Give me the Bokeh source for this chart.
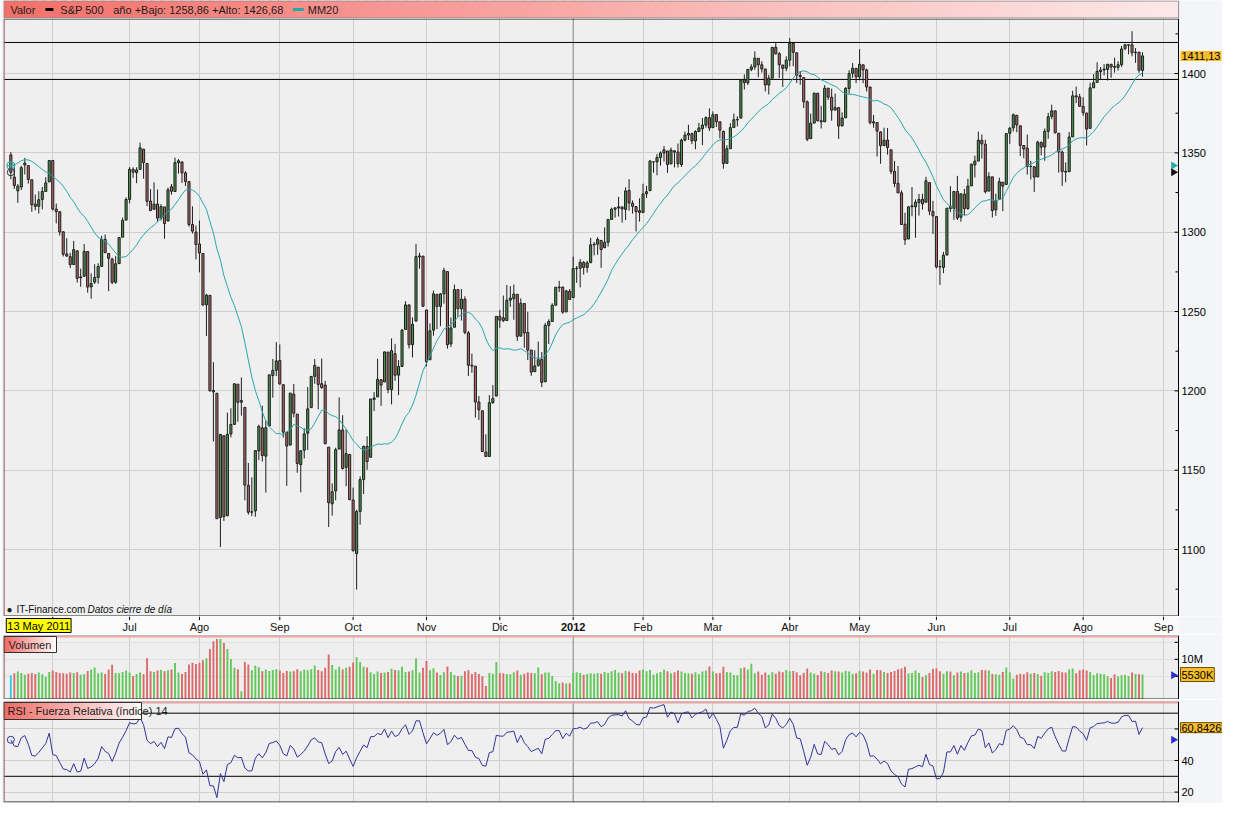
import numpy as np
import pandas as pd
from bokeh.plotting import figure
from bokeh.layouts import column
from bokeh.models import Range1d, FixedTicker, Span, Label
from bokeh.core.properties import value
from bokeh.embed import file_html
from bokeh.resources import INLINE

FONT = "Liberation Sans"

# ---------------- data ----------------
first_date_label = "13 May 2011"
month_start_idx = [12, 34, 54, 77, 98, 119, 140, 161, 181, 201, 223, 243, 265, 286, 307, 330]
month_labels = ["", "Jul", "Ago", "Sep", "Oct", "Nov", "Dic", "2012", "Feb", "Mar", "Abr", "May", "Jun", "Jul", "Ago", "Sep"]
year_start_idx = 161
levels = [1419.6, 1396.3]
price_ticks = [1100, 1150, 1200, 1250, 1300, 1350, 1400]
price_minor_ticks = [1075, 1125, 1175, 1225, 1275, 1325, 1375, 1425]
vol_ticks = [5, 10, 15]
vol_tick_labels = ["", "10M", ""]
rsi_ticks = [20, 40, 60]
rsi_bands = [70, 30]
rsi_last_text = "60,8426"

# closes before the first candle (used only for MM20 / RSI start values)
warmup_closes = [1256.88, 1273.72, 1279.21, 1298.38, 1293.77, 1297.54, 1309.66, 1313.80, 1310.19, 1319.44,
                 1328.26, 1325.83, 1332.41, 1332.87, 1332.63, 1335.54, 1333.51, 1328.17, 1324.46, 1314.16,
                 1314.41, 1314.52, 1319.68, 1305.14, 1312.62, 1330.36, 1337.38, 1335.25, 1347.24, 1355.66,
                 1360.48, 1363.61, 1361.22, 1356.62, 1347.32, 1335.10, 1340.20, 1346.29, 1357.16, 1342.08, 1348.65]

opens = [
    1348.69, 1334.77, 1326.10, 1328.54, 1342.40, 1342.00, 1333.07, 1317.70, 1316.36, 1320.64, 1325.69, 1331.72,
    1345.20, 1314.55, 1312.94, 1300.26, 1286.31, 1284.63, 1279.63, 1288.26, 1271.31, 1272.22, 1287.87, 1265.53, 1268.58, 1271.50, 1278.40, 1295.48, 1286.60, 1283.04, 1268.44, 1280.21, 1296.85, 1307.64,
    1320.64, 1339.59, 1337.56, 1339.62, 1352.39, 1343.31, 1319.61, 1314.45, 1317.74, 1308.87, 1315.94, 1307.07, 1328.66, 1325.65, 1343.80, 1344.32, 1337.39, 1331.91, 1304.84, 1300.12,
    1292.59, 1286.56, 1254.25, 1260.23, 1200.28, 1198.48, 1120.23, 1171.77, 1121.30, 1172.87, 1178.86, 1204.22, 1192.89, 1189.62, 1140.47, 1123.55, 1124.36, 1162.16, 1176.69, 1158.85, 1177.91, 1209.76, 1213.00,
    1219.12, 1203.90, 1173.97, 1165.85, 1197.98, 1185.37, 1153.50, 1162.59, 1173.32, 1189.44, 1209.21, 1214.99, 1204.50, 1203.63, 1164.55, 1128.82, 1136.91, 1163.32, 1175.39, 1151.74, 1159.93,
    1131.21, 1097.42, 1124.03, 1144.11, 1165.03, 1158.15, 1194.60, 1196.19, 1206.96, 1205.65, 1224.47, 1200.75, 1223.46, 1209.92, 1215.39, 1238.72, 1254.19, 1229.17, 1243.97, 1284.39, 1284.96,
    1251.00, 1219.62, 1238.25, 1260.82, 1253.21, 1261.12, 1275.18, 1229.59, 1240.12, 1263.85, 1251.70, 1257.81, 1236.56, 1216.19, 1215.62, 1192.98, 1187.48, 1161.41, 1158.67, 1192.56, 1196.72,
    1246.91, 1246.03, 1244.33, 1257.19, 1258.14, 1260.87, 1234.48, 1255.05, 1236.83, 1225.73, 1212.12, 1216.09, 1219.74, 1205.72, 1241.25, 1243.72, 1254.00, 1265.02, 1265.38, 1249.75, 1262.82,
    1258.86, 1277.03, 1277.30, 1280.93, 1277.83, 1280.77, 1292.02, 1292.48, 1294.82, 1290.22, 1293.65, 1308.07, 1314.49, 1315.29, 1315.96, 1314.40, 1326.28, 1318.25, 1316.16, 1313.53,
    1312.45, 1324.24, 1326.21, 1344.32, 1344.33, 1347.04, 1349.97, 1351.21, 1343.06, 1351.30, 1350.52, 1342.61, 1358.06, 1361.22, 1362.11, 1357.53, 1363.46, 1365.20, 1367.56, 1372.20,
    1365.90, 1374.09, 1369.59, 1363.63, 1343.39, 1352.65, 1365.97, 1370.78, 1371.92, 1395.95, 1394.17, 1402.55, 1404.17, 1409.59, 1405.52, 1402.89, 1392.78, 1397.11, 1416.55, 1412.52, 1405.39, 1403.31,
    1408.47, 1418.98, 1413.09, 1398.79, 1397.45, 1382.18, 1358.98, 1368.77, 1387.61, 1370.27, 1369.57, 1390.78, 1385.08, 1376.96, 1378.53, 1366.97, 1372.11, 1390.64, 1400.19, 1403.26,
    1397.86, 1405.50, 1402.32, 1391.51, 1368.79, 1369.16, 1363.20, 1354.58, 1358.11, 1351.93, 1338.36, 1330.78, 1324.82, 1305.05, 1295.73, 1316.09, 1316.02, 1318.72, 1320.81, 1318.90, 1331.25, 1313.09,
    1309.87, 1278.29, 1277.82, 1285.61, 1316.15, 1314.99, 1325.72, 1309.40, 1324.02, 1314.88, 1329.19, 1342.42, 1344.83, 1357.98, 1355.43, 1325.92, 1334.90, 1314.09, 1320.71, 1331.52, 1330.12,
    1362.33, 1365.75, 1373.72, 1367.09, 1354.66, 1352.96, 1341.40, 1341.29, 1334.81, 1356.50, 1353.68, 1363.58, 1373.01, 1376.51, 1362.34, 1350.52, 1338.35, 1338.17, 1360.05, 1385.94, 1385.27,
    1379.32, 1375.13, 1365.45, 1391.04, 1394.46, 1401.23, 1402.26, 1402.58, 1405.87, 1404.36, 1403.89, 1405.57, 1415.84, 1417.85, 1418.13, 1413.09, 1413.49, 1401.99,
]

highs = [
    1350.47, 1343.33, 1330.42, 1341.82, 1346.82, 1342.00, 1333.07, 1323.72, 1325.86, 1328.51, 1334.62, 1345.20,
    1345.20, 1318.03, 1312.94, 1300.26, 1296.22, 1287.04, 1294.54, 1288.26, 1277.04, 1292.50, 1287.87, 1274.11, 1279.82, 1280.42, 1297.62, 1298.61, 1286.60, 1283.93, 1284.91, 1296.80, 1309.21, 1321.97,
    1341.01, 1340.89, 1340.94, 1356.48, 1352.39, 1343.31, 1327.17, 1331.48, 1326.88, 1317.70, 1315.94, 1328.14, 1330.43, 1347.00, 1346.10, 1344.32, 1338.51, 1331.91, 1316.32, 1304.16,
    1307.38, 1286.58, 1261.20, 1260.23, 1218.11, 1198.48, 1172.88, 1171.77, 1186.29, 1189.04, 1204.49, 1204.22, 1208.47, 1189.62, 1154.54, 1145.49, 1162.35, 1178.68, 1190.68, 1181.23, 1210.28, 1220.10, 1230.71,
    1229.29, 1203.90, 1173.97, 1198.62, 1204.40, 1185.37, 1162.52, 1176.41, 1202.38, 1209.11, 1220.06, 1214.99, 1220.39, 1206.30, 1164.55, 1141.72, 1164.19, 1195.86, 1184.71, 1175.87, 1159.93,
    1138.99, 1125.12, 1146.07, 1165.55, 1171.40, 1194.91, 1199.24, 1220.25, 1207.46, 1224.61, 1224.47, 1233.10, 1229.64, 1219.36, 1239.03, 1256.55, 1254.19, 1246.28, 1292.66, 1287.08, 1284.96,
    1251.00, 1242.48, 1263.21, 1260.82, 1261.70, 1277.55, 1275.18, 1246.22, 1266.98, 1263.85, 1264.25, 1259.61, 1237.73, 1223.51, 1215.62, 1196.81, 1187.48, 1172.66, 1197.35, 1203.67, 1247.11,
    1251.09, 1260.08, 1266.73, 1266.03, 1267.06, 1260.87, 1258.25, 1255.05, 1249.86, 1225.73, 1225.60, 1231.04, 1224.57, 1242.82, 1245.09, 1255.22, 1265.42, 1269.37, 1265.85, 1263.54, 1264.12,
    1284.62, 1278.73, 1283.05, 1281.84, 1281.99, 1296.46, 1293.80, 1296.82, 1294.82, 1303.00, 1308.11, 1315.49, 1315.38, 1322.28, 1315.96, 1328.30, 1333.47, 1320.06, 1316.16, 1321.41,
    1330.52, 1329.19, 1345.34, 1344.36, 1349.24, 1351.00, 1354.32, 1351.21, 1353.35, 1351.30, 1355.87, 1359.02, 1363.40, 1367.76, 1362.70, 1364.24, 1368.92, 1371.94, 1373.09, 1378.04,
    1376.17, 1374.53, 1369.59, 1363.63, 1354.85, 1368.72, 1374.76, 1373.04, 1396.13, 1399.42, 1402.63, 1405.88, 1414.00, 1409.59, 1407.75, 1402.89, 1399.18, 1416.58, 1419.15, 1413.65, 1405.39, 1410.89,
    1422.38, 1419.00, 1413.09, 1401.60, 1397.45, 1383.01, 1374.71, 1388.13, 1387.61, 1379.66, 1392.76, 1390.78, 1390.46, 1387.40, 1378.53, 1375.57, 1391.37, 1402.09, 1406.64, 1403.26,
    1415.32, 1405.50, 1403.07, 1391.51, 1373.91, 1369.16, 1363.73, 1365.88, 1365.66, 1351.93, 1344.94, 1341.78, 1326.36, 1312.24, 1316.39, 1328.49, 1320.71, 1324.14, 1324.20, 1334.93, 1331.25, 1319.74,
    1309.87, 1282.55, 1287.62, 1315.13, 1329.05, 1325.81, 1335.52, 1324.31, 1327.28, 1333.68, 1343.32, 1348.22, 1363.46, 1361.57, 1358.27, 1337.82, 1334.90, 1324.24, 1334.40, 1331.52, 1362.17,
    1366.35, 1374.81, 1373.85, 1367.09, 1354.87, 1361.54, 1345.00, 1341.29, 1357.70, 1357.26, 1365.36, 1375.26, 1380.39, 1376.51, 1362.34, 1351.53, 1343.98, 1363.13, 1389.19, 1391.74, 1387.16,
    1385.03, 1375.13, 1394.16, 1399.63, 1407.14, 1404.14, 1405.95, 1405.98, 1405.87, 1410.03, 1407.73, 1417.44, 1418.71, 1418.13, 1426.68, 1416.12, 1413.49, 1413.46,
]

lows = [
    1333.36, 1327.32, 1318.51, 1326.59, 1336.36, 1330.67, 1312.88, 1313.87, 1311.80, 1314.41, 1325.69, 1331.72,
    1313.71, 1305.61, 1297.90, 1284.72, 1284.74, 1277.42, 1279.63, 1268.28, 1265.64, 1272.22, 1261.90, 1258.07, 1267.40, 1267.56, 1278.40, 1286.79, 1262.87, 1267.24, 1267.53, 1280.21, 1296.85, 1307.64,
    1318.18, 1334.30, 1330.92, 1339.62, 1333.71, 1316.42, 1313.33, 1314.45, 1306.51, 1307.35, 1295.92, 1307.07, 1323.65, 1325.65, 1336.95, 1331.09, 1329.10, 1303.49, 1299.16, 1282.86,
    1274.73, 1254.03, 1234.56, 1199.54, 1168.09, 1119.28, 1101.54, 1118.01, 1121.30, 1170.74, 1178.86, 1180.53, 1184.36, 1131.03, 1122.05, 1121.09, 1120.67, 1156.30, 1155.47, 1135.91, 1177.91, 1195.77, 1209.35,
    1203.85, 1170.56, 1140.13, 1165.85, 1183.34, 1148.37, 1136.07, 1157.44, 1162.73, 1189.44, 1204.46, 1188.36, 1201.29, 1166.21, 1114.22, 1121.36, 1131.07, 1163.32, 1150.40, 1139.93, 1131.34,
    1098.92, 1074.77, 1115.68, 1134.95, 1150.26, 1158.15, 1187.30, 1196.19, 1190.58, 1205.65, 1198.55, 1191.48, 1206.31, 1197.34, 1215.39, 1238.72, 1226.79, 1221.06, 1243.97, 1277.01, 1253.16,
    1215.42, 1219.62, 1234.81, 1238.92, 1240.75, 1254.99, 1226.64, 1227.70, 1240.12, 1246.68, 1244.34, 1235.67, 1209.43, 1211.36, 1183.16, 1181.65, 1161.79, 1158.66, 1158.67, 1191.80, 1196.72,
    1239.73, 1243.35, 1244.33, 1253.03, 1244.80, 1231.47, 1234.48, 1227.25, 1219.43, 1209.47, 1212.12, 1215.20, 1202.37, 1205.72, 1229.51, 1243.72, 1254.00, 1262.30, 1248.64, 1249.75, 1257.46,
    1258.86, 1268.10, 1265.26, 1273.34, 1274.55, 1280.77, 1285.41, 1285.77, 1277.58, 1290.22, 1290.99, 1308.07, 1309.17, 1309.89, 1306.06, 1307.65, 1313.60, 1311.72, 1300.49, 1306.69,
    1312.45, 1321.57, 1326.21, 1337.52, 1335.92, 1341.95, 1344.63, 1337.35, 1343.06, 1340.83, 1340.80, 1341.22, 1357.24, 1358.11, 1355.53, 1352.28, 1363.46, 1354.92, 1365.97, 1363.81,
    1365.90, 1366.42, 1359.13, 1340.03, 1343.39, 1352.65, 1365.97, 1366.69, 1371.92, 1389.97, 1392.78, 1401.47, 1402.43, 1397.68, 1400.64, 1388.73, 1386.87, 1397.11, 1411.95, 1397.20, 1391.56, 1401.42,
    1404.46, 1404.62, 1394.09, 1392.92, 1378.24, 1357.38, 1358.98, 1368.77, 1369.85, 1365.38, 1369.57, 1383.29, 1370.30, 1376.96, 1358.79, 1366.82, 1372.11, 1387.28, 1397.31, 1394.00,
    1395.73, 1393.92, 1388.71, 1367.96, 1365.88, 1347.75, 1343.13, 1354.58, 1348.89, 1336.61, 1328.41, 1324.79, 1304.86, 1291.98, 1295.73, 1310.04, 1296.53, 1310.50, 1314.23, 1318.90, 1310.76, 1298.90,
    1277.25, 1266.74, 1274.16, 1285.61, 1312.68, 1307.77, 1307.73, 1306.62, 1310.51, 1314.14, 1329.19, 1334.46, 1344.83, 1346.45, 1324.41, 1325.92, 1309.27, 1310.30, 1320.71, 1313.29, 1330.12,
    1355.70, 1363.53, 1363.02, 1348.03, 1346.65, 1336.27, 1333.25, 1325.41, 1334.81, 1348.51, 1345.07, 1358.96, 1371.21, 1362.19, 1337.56, 1329.24, 1331.50, 1338.17, 1360.05, 1381.37, 1379.17,
    1373.35, 1354.65, 1365.45, 1391.04, 1394.46, 1396.13, 1398.80, 1395.62, 1397.32, 1400.60, 1401.83, 1404.15, 1414.67, 1412.12, 1410.86, 1406.78, 1400.50, 1398.04,
]

closes = [
    1337.77, 1329.47, 1328.98, 1340.68, 1343.60, 1333.27, 1317.37, 1316.28, 1320.47, 1325.69, 1331.10, 1345.20,
    1314.55, 1312.94, 1300.16, 1286.17, 1284.94, 1279.56, 1289.00, 1270.98, 1271.83, 1287.87, 1265.42, 1267.64, 1271.50, 1278.36, 1295.52, 1287.14, 1283.50, 1268.45, 1280.10, 1296.67, 1307.41, 1320.64,
    1339.67, 1337.88, 1339.22, 1353.22, 1343.80, 1319.49, 1313.64, 1317.72, 1308.87, 1316.14, 1305.44, 1326.73, 1325.84, 1343.80, 1345.02, 1337.43, 1331.94, 1304.89, 1300.67, 1292.28,
    1286.94, 1254.05, 1260.34, 1200.07, 1199.38, 1119.46, 1172.53, 1120.76, 1172.64, 1178.81, 1204.49, 1192.76, 1193.89, 1140.65, 1123.53, 1123.82, 1162.35, 1177.60, 1159.27, 1176.80, 1210.08, 1212.92, 1218.89,
    1204.42, 1173.97, 1165.24, 1198.62, 1185.90, 1154.23, 1162.27, 1172.87, 1188.68, 1209.11, 1216.01, 1204.09, 1202.09, 1166.76, 1129.56, 1136.43, 1162.95, 1175.38, 1151.06, 1160.40, 1131.42,
    1099.23, 1123.95, 1144.03, 1164.97, 1155.46, 1194.89, 1195.54, 1207.25, 1203.66, 1224.58, 1200.86, 1225.38, 1209.88, 1215.39, 1238.25, 1254.19, 1229.05, 1242.00, 1284.59, 1285.09, 1253.30,
    1218.28, 1237.90, 1261.15, 1253.23, 1261.12, 1275.92, 1229.10, 1239.69, 1263.85, 1251.78, 1257.81, 1236.91, 1216.13, 1215.65, 1192.98, 1188.04, 1161.79, 1158.67, 1192.55, 1195.19, 1246.96,
    1244.58, 1244.28, 1257.08, 1258.47, 1261.01, 1234.35, 1255.19, 1236.47, 1225.73, 1211.82, 1215.75, 1219.66, 1205.35, 1241.30, 1243.72, 1254.00, 1265.33, 1265.43, 1249.64, 1263.02, 1257.60,
    1277.06, 1277.30, 1281.06, 1277.81, 1280.70, 1292.08, 1292.48, 1295.50, 1289.09, 1293.67, 1308.04, 1314.50, 1315.38, 1316.00, 1314.65, 1326.06, 1318.43, 1316.33, 1313.01, 1312.41,
    1324.09, 1325.54, 1344.90, 1344.33, 1347.05, 1349.96, 1351.95, 1342.64, 1351.77, 1350.50, 1343.23, 1358.04, 1361.23, 1362.21, 1357.66, 1363.46, 1365.74, 1367.59, 1372.18, 1365.68,
    1374.09, 1369.63, 1364.33, 1343.36, 1352.63, 1365.91, 1370.87, 1371.09, 1395.95, 1394.28, 1402.60, 1404.17, 1409.75, 1405.52, 1402.89, 1392.78, 1397.11, 1416.51, 1412.52, 1405.54, 1403.28, 1408.47,
    1419.04, 1413.38, 1398.96, 1398.08, 1382.20, 1358.59, 1368.71, 1387.57, 1370.26, 1369.57, 1390.78, 1385.14, 1376.92, 1378.53, 1366.94, 1371.97, 1390.69, 1399.98, 1403.36, 1397.91,
    1405.82, 1402.31, 1391.57, 1369.10, 1369.58, 1363.72, 1354.58, 1357.99, 1353.39, 1338.35, 1330.66, 1324.80, 1304.86, 1295.22, 1315.99, 1316.63, 1318.86, 1320.68, 1317.82, 1332.42, 1313.32, 1310.33,
    1278.04, 1278.18, 1285.50, 1315.13, 1314.99, 1325.66, 1308.93, 1324.18, 1314.88, 1329.10, 1342.84, 1344.78, 1357.98, 1355.69, 1325.51, 1335.02, 1313.72, 1319.99, 1331.85, 1329.04, 1362.16,
    1365.51, 1374.02, 1367.58, 1354.68, 1352.46, 1341.47, 1341.45, 1334.76, 1356.78, 1353.64, 1363.67, 1372.78, 1376.51, 1362.66, 1350.52, 1338.31, 1337.89, 1360.02, 1385.97, 1385.30, 1379.32,
    1375.32, 1365.00, 1390.99, 1394.23, 1401.35, 1402.22, 1402.80, 1405.87, 1404.11, 1403.93, 1405.53, 1415.51, 1418.16, 1418.13, 1413.17, 1413.49, 1402.08, 1411.13,
]

# volume, millions
volumes = [
    5.3, 5.9, 6.4, 6.0, 5.5, 5.8, 6.0, 5.7, 6.1, 5.6, 4.9, 6.3,
    6.7, 6.3, 6.0, 5.9, 5.8, 6.1, 6.0, 6.2, 5.5, 5.7, 6.6, 7.0, 7.6, 5.9, 6.1, 5.7, 7.0, 8.4, 6.0, 5.9, 6.3, 6.7,
    6.1, 5.1, 5.7, 6.1, 5.6, 10.3, 6.5, 6.3, 6.7, 6.9, 6.5, 6.8, 7.0, 8.9, 6.1, 5.7, 6.3, 8.5, 9.0, 8.6,
    9.0, 9.7, 10.3, 13.0, 15.3, 16.0, 16.0, 14.8, 13.0, 10.1, 7.5, 7.1, 0.6, 9.3, 8.5, 6.8, 8.1, 7.7, 6.5, 7.0, 6.6, 6.9, 7.1,
    6.7, 6.0, 6.6, 6.4, 6.5, 7.1, 6.5, 7.0, 6.8, 7.1, 8.2, 6.9, 6.5, 7.5, 11.4, 8.3, 7.0, 7.8, 7.0, 7.5, 7.8,
    9.1, 10.6, 9.2, 7.8, 7.6, 6.2, 5.7, 6.4, 6.0, 6.1, 6.3, 7.2, 6.9, 6.7, 7.8, 6.3, 6.4, 6.8, 10.3, 6.1, 7.5,
    9.5, 6.8, 7.4, 6.1, 5.4, 6.2, 7.9, 6.3, 5.4, 5.1, 5.2, 6.5, 6.8, 5.7, 6.3, 5.7, 5.0, 2.2, 6.0, 5.8, 9.2,
    6.0, 5.9, 5.7, 5.6, 6.2, 6.7, 5.5, 5.8, 6.1, 6.0, 5.9, 7.6, 5.6, 6.1, 6.1, 5.1, 3.6, 3.0, 3.2, 2.9, 3.0,
    6.0, 6.2, 6.0, 5.5, 5.7, 5.9, 5.8, 6.0, 5.8, 6.3, 6.0, 6.5, 6.9, 6.1, 5.9, 6.6, 6.4, 6.0, 5.9, 6.7,
    7.0, 6.5, 6.9, 5.5, 5.9, 6.3, 7.0, 6.5, 5.9, 6.2, 6.7, 6.4, 6.0, 5.9, 5.8, 6.2, 5.6, 6.4, 6.7, 7.9,
    6.4, 5.9, 6.0, 7.8, 6.3, 6.1, 5.4, 5.3, 7.4, 7.6, 7.0, 8.7, 5.9, 6.4, 5.5, 6.1, 5.5, 6.2, 5.8, 6.4, 6.2, 6.9,
    6.5, 6.6, 6.2, 5.3, 6.0, 7.3, 6.1, 5.8, 5.4, 6.5, 6.3, 6.0, 6.7, 6.5, 6.4, 6.1, 6.6, 6.4, 5.7, 5.9,
    6.6, 6.4, 6.1, 7.0, 5.8, 6.9, 6.8, 6.3, 6.0, 6.3, 6.6, 7.1, 7.3, 7.8, 5.9, 6.0, 6.7, 6.0, 4.8, 5.3, 6.0, 7.2,
    7.4, 6.5, 5.8, 6.5, 6.4, 5.3, 6.1, 6.4, 6.0, 6.1, 6.8, 6.0, 6.2, 6.9, 6.8, 6.7, 5.7, 5.6, 5.5, 6.3, 7.6,
    6.2, 4.4, 5.5, 5.8, 5.6, 6.2, 5.8, 6.0, 5.7, 5.2, 6.2, 6.0, 6.5, 6.3, 6.6, 6.2, 6.1, 7.0, 7.3, 5.9, 6.8,
    7.0, 6.7, 6.3, 5.4, 5.9, 5.8, 5.6, 5.0, 4.5, 5.6, 5.0, 5.3, 5.5, 5.1, 6.1, 5.7, 5.6, 5.53,
]

# ---------------- derived ----------------
n = min(len(opens), len(highs), len(lows), len(closes), len(volumes))
o = np.array(opens[:n]); h = np.array(highs[:n]); l = np.array(lows[:n]); c = np.array(closes[:n])
vol = np.array(volumes[:n])
idx = np.arange(n)

allc = np.concatenate([np.array(warmup_closes), c])
nw = len(warmup_closes)
ma20 = pd.Series(allc).rolling(20).mean().to_numpy()[nw:]

delta = np.diff(allc)
gain = np.where(delta > 0, delta, 0.0)
loss = np.where(delta < 0, -delta, 0.0)
rsi_full = np.full(len(allc), np.nan)
ag = gain[:14].mean(); al = loss[:14].mean()
rsi_full[14] = 100 - 100 / (1 + ag / al)
for i in range(14, len(delta)):
    ag = (ag * 13 + gain[i]) / 14
    al = (al * 13 + loss[i]) / 14
    rsi_full[i + 1] = 100 - 100 / (1 + ag / al)
rsi = rsi_full[nw:]

up = c >= o
body_top = np.maximum(o, c); body_bot = np.minimum(o, c)
body_cols = np.where(up, "#48964a", "#b56868")
vol_cols = list(np.where(up, "#62c85a", "#dc6a6a"))
vol_cols[0] = "#38c8e8"

yr_low = min(lows[year_start_idx:n]); yr_high = max(highs[year_start_idx:n])
def es(v, d=2):
    return f"{v:.{d}f}".replace(".", ",")

# ---------------- layout constants ----------------
W = 1222
LB = 3
AXPX = 44                      # width of the right value-axis strip
FW = W - LB                    # frame width (frame spans the axis strip too)
DATA_PX = FW - AXPX
X0, AX = -2.1, 334.3           # data x-limits of the chart area; AX = axis line
UX = (AX - X0) / DATA_PX       # x units per pixel
XEND = AX + AXPX * UX
XR = Range1d(X0, XEND)
BORDER_BG = "#f4f5f8"
PANEL_BG = "#efefef"
GRID = "#cfcfcf"
TRI_X = AX - 5 * UX

def hgrad(fig, x0, x1, y0, y1, c0, c1, steps):
    w = (x1 - x0) / steps
    lefts = [x0 + k * w for k in range(steps)]
    rights = [x0 + (k + 1.4) * w if k < steps - 1 else x1 for k in range(steps)]
    cols = []
    for k in range(steps):
        t = k / max(steps - 1, 1)
        cols.append("#%02x%02x%02x" % tuple(int(round(a + (b - a) * t)) for a, b in zip(c0, c1)))
    fig.quad(left=lefts, right=rights, bottom=y0, top=y1, fill_color=cols, line_color=None)

def base_fig(height, y_range, top=0, bottom=0, bg=PANEL_BG):
    f = figure(width=W, height=height, x_range=XR, y_range=y_range,
               output_backend="svg", toolbar_location=None,
               x_axis_location=None, y_axis_location=None,
               min_border_left=LB, min_border_right=0, min_border_top=top, min_border_bottom=bottom,
               background_fill_color=bg, border_fill_color=BORDER_BG, outline_line_color=None)
    return f

def month_grid(f):
    f.xgrid.ticker = FixedTicker(ticks=month_start_idx)
    f.xgrid.grid_line_color = GRID
    f.add_layout(Span(location=year_start_idx, dimension="height", line_color="#8e8e8e",
                      line_width=1, level="underlay"))

def frame_lines(f, y0, y1, fh, pink_top=False):
    uy = (y1 - y0) / fh
    f.quad(left=[X0 + 0.5 * UX], right=[AX], bottom=[y0 + 0.5 * uy], top=[y1 - 0.5 * uy],
           fill_color=None, line_color="#202020", line_width=1)
    f.segment(x0=[X0 + 0.5 * UX], y0=[y0], x1=[X0 + 0.5 * UX], y1=[y1], line_color="#e49a9a", line_width=1)
    if pink_top:
        f.segment(x0=[X0], y0=[y1 - 1.0 * uy], x1=[AX], y1=[y1 - 1.0 * uy], line_color="#f0a4a4", line_width=2)

def side_axis(f, y0, y1, fh, majors, labels, minors=()):
    f.quad(left=[AX], right=[XEND], bottom=[y0], top=[y1], fill_color=BORDER_BG, line_color=None)
    f.segment(x0=[AX], y0=[y0], x1=[AX], y1=[y1], line_color="black", line_width=1)
    f.segment(x0=[AX - 4 * UX] * len(majors), y0=majors, x1=[AX] * len(majors), y1=majors,
              line_color="black", line_width=1)
    if minors:
        f.segment(x0=[AX - 3 * UX] * len(minors), y0=list(minors), x1=[AX] * len(minors), y1=list(minors),
                  line_color="black", line_width=1)
    shown = [(m, t) for m, t in zip(majors, labels) if t]
    f.text(x=[AX + 3 * UX] * len(shown), y=[m for m, _ in shown], text=[t for _, t in shown],
           text_font=value(FONT), text_font_size="11px", text_color="black",
           text_align="left", text_baseline="middle")

def value_box(f, yv, text, border="#6a5200"):
    f.text(x=[AX + 2 * UX], y=[yv], text=[text], text_font=value(FONT), text_font_size="11px",
           text_color="black", text_align="left", text_baseline="middle",
           background_fill_color="#f9bd2a", border_line_color=border, padding=1)

# ---------------- header ----------------
HEND = LB + DATA_PX
ph = figure(width=W, height=18, x_range=Range1d(0, W), y_range=Range1d(0, 18),
            output_backend="svg", toolbar_location=None, x_axis_location=None, y_axis_location=None,
            min_border_left=0, min_border_right=0, min_border_top=0, min_border_bottom=0,
            background_fill_color=BORDER_BG, border_fill_color=BORDER_BG, outline_line_color=None)
ph.xgrid.visible = False; ph.ygrid.visible = False
hgrad(ph, 0, HEND, 0, 18, (244, 112, 106), (252, 232, 232), 120)
ph.quad(left=[0.5], right=[HEND], bottom=[0.5], top=[17.5], fill_color=None, line_color="#8c8c8c")
htxt = dict(text_font=value(FONT), text_font_size="11px", text_color="#1c1c1c", text_baseline="middle", text_align="left")
ph.text(x=[7], y=[9], text=["Valor"], **htxt)
ph.quad(left=[42], right=[50], bottom=[7.5], top=[10.5], fill_color="black", line_color=None)
ph.text(x=[57], y=[9], text=["S&P 500"], **htxt)
ph.text(x=[110], y=[9], text=[f"año +Bajo: {es(yr_low)} +Alto: {es(yr_high)}"], **htxt)
ph.quad(left=[290], right=[301], bottom=[7.5], top=[10.5], fill_color="#2aa7a7", line_color=None)
ph.text(x=[305], y=[9], text=["MM20"], **htxt)

# ---------------- main price panel ----------------
PY0, PY1, PH = 1057.8, 1434.7, 598
p = base_fig(PH, Range1d(PY0, PY1))
month_grid(p)
p.ygrid.ticker = FixedTicker(ticks=price_ticks)
p.ygrid.grid_line_color = GRID
p.segment(x0=[X0] * len(levels), y0=levels, x1=[AX] * len(levels), y1=levels, line_color="black", line_width=1)
p.segment(x0=idx, y0=h, x1=idx, y1=l, line_color="#1e1e1e", line_width=1)
p.vbar(x=idx, top=body_top, bottom=body_bot, width=0.6, fill_color=body_cols, line_color="#1e1e1e", line_width=1)
p.line(idx, ma20, line_color="#2aa7a7", line_width=1)
p.scatter(x=[idx[0]], y=[ma20[0]], marker="circle_cross", size=8, fill_color=None, line_color="#2aa7a7")
p.scatter(x=[idx[0]], y=[c[0]], marker="circle", size=7, fill_color=None, line_color="#303030")
p.scatter(x=[TRI_X, TRI_X], y=[ma20[0], c[0]], marker="triangle", angle=-np.pi / 2, size=8,
          fill_color=["#2aa7a7", "#111111"], line_color=None)
frame_lines(p, PY0, PY1, PH)
side_axis(p, PY0, PY1, PH, price_ticks, [str(t) for t in price_ticks], price_minor_ticks)
value_box(p, c[-1], es(c[-1]), border=None)
p.add_layout(Label(x=3, y=2, x_units="screen", y_units="screen", text="●", text_font=FONT,
                   text_font_size="10px", text_color="#222222"))
p.add_layout(Label(x=13, y=2, x_units="screen", y_units="screen", text="IT-Finance.com", text_font=FONT,
                   text_font_size="10px", text_color="#111111"))
p.add_layout(Label(x=84, y=2, x_units="screen", y_units="screen", text="Datos cierre de día", text_font=FONT,
                   text_font_size="10px", text_font_style="italic", text_color="#111111"))

# ---------------- date axis row ----------------
pa = base_fig(18, Range1d(0, 1), bg="#fbfbfb")
pa.xgrid.visible = False; pa.ygrid.visible = False
pa.quad(left=[AX], right=[XEND], bottom=[0], top=[1], fill_color=BORDER_BG, line_color=None)
pa.segment(x0=month_start_idx, y0=1, x1=month_start_idx, y1=0.8, line_color="black")
norm_x = [m for m, t in zip(month_start_idx, month_labels) if t and m != year_start_idx]
norm_t = [t for m, t in zip(month_start_idx, month_labels) if t and m != year_start_idx]
atxt = dict(text_font=value(FONT), text_font_size="11px", text_color="#111111", text_baseline="middle", text_align="center")
pa.text(x=norm_x, y=0.42, text=norm_t, **atxt)
pa.text(x=[year_start_idx], y=0.42, text=[month_labels[month_start_idx.index(year_start_idx)]],
        text_font_style="bold", **atxt)
pa.text(x=[idx[0] - 1.3], y=[0.5], text=[first_date_label], text_font=value(FONT), text_font_size="11px",
        text_color="black", text_baseline="middle", text_align="left",
        background_fill_color="#ffff00", border_line_color="black", padding=1)

# ---------------- volume panel ----------------
VY0, VY1, VH = -1.8, 17.0, 64
pv = base_fig(VH + 1, Range1d(VY0, VY1), top=1)
month_grid(pv)
pv.ygrid.ticker = FixedTicker(ticks=vol_ticks)
pv.ygrid.grid_line_color = "#e0e0e0"
pv.vbar(x=idx, top=vol, bottom=VY0, width=0.55, fill_color=vol_cols, line_color=None)
frame_lines(pv, VY0, VY1, VH, pink_top=True)
side_axis(pv, VY0, VY1, VH, vol_ticks, vol_tick_labels)
pv.scatter(x=[TRI_X], y=[vol[0]], marker="triangle", angle=-np.pi / 2, size=8, fill_color="#2f2fd0", line_color=None)
value_box(pv, vol[-1], f"{int(round(vol[-1] * 1000))}K")
vpx = (VY1 - VY0) / VH
hgrad(pv, X0 + 0.5 * UX, X0 + 53 * UX, VY1 - 17 * vpx, VY1 - 1 * vpx, (240, 110, 104), (255, 250, 250), 20)
pv.quad(left=[X0 + 0.5 * UX], right=[X0 + 53 * UX], bottom=[VY1 - 17 * vpx], top=[VY1 - 1 * vpx],
        fill_color=None, line_color="#303030")
pv.text(x=[X0 + 5 * UX], y=[VY1 - 9 * vpx], text=["Volumen"], text_font=value(FONT), text_font_size="11px",
        text_color="#1c1c1c", text_baseline="middle", text_align="left")

# ---------------- RSI panel ----------------
RY0, RY1, RH = 13.4, 77.4, 101
pr = base_fig(RH + 3, Range1d(RY0, RY1), top=2, bottom=1)
month_grid(pr)
pr.ygrid.ticker = FixedTicker(ticks=rsi_ticks)
pr.ygrid.grid_line_color = GRID
pr.segment(x0=[X0] * len(rsi_bands), y0=rsi_bands, x1=[AX] * len(rsi_bands), y1=rsi_bands,
           line_color="black", line_width=1)
pr.line(idx, rsi, line_color="#333399", line_width=1)
pr.scatter(x=[idx[0]], y=[rsi[0]], marker="circle", size=7, fill_color=None, line_color="#333399")
pr.scatter(x=[TRI_X], y=[rsi[0]], marker="triangle", angle=-np.pi / 2, size=8, fill_color="#2f2fd0", line_color=None)
frame_lines(pr, RY0, RY1, RH, pink_top=True)
side_axis(pr, RY0, RY1, RH, rsi_ticks, [str(t) for t in rsi_ticks])
value_box(pr, rsi[-1], rsi_last_text)
rpx = (RY1 - RY0) / RH
hgrad(pr, X0 + 0.5 * UX, X0 + 138 * UX, RY1 - 18 * rpx, RY1 - 1 * rpx, (240, 110, 104), (255, 250, 250), 40)
pr.quad(left=[X0 + 0.5 * UX], right=[X0 + 138 * UX], bottom=[RY1 - 18 * rpx], top=[RY1 - 1 * rpx],
        fill_color=None, line_color="#303030")
pr.text(x=[X0 + 4 * UX], y=[RY1 - 9.5 * rpx], text=["RSI - Fuerza Relativa (índice) 14"], text_font=value(FONT),
        text_font_size="11px", text_color="#1c1c1c", text_baseline="middle", text_align="left")

layout = column(ph, p, pa, pv, pr, spacing=0)
open("out.html", "w").write(file_html(layout, INLINE))
